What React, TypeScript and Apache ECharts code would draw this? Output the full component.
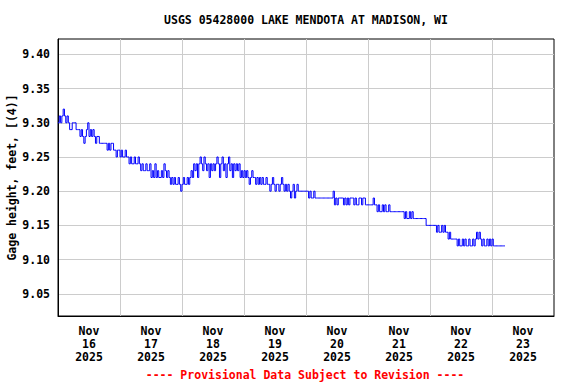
import React, { useEffect, useRef } from "react";
import * as echarts from "echarts";

// Gage height readings (feet), every 30 minutes starting Nov 16 2025 00:00
const nov16 = [
  9.30, 9.31, 9.30, 9.31, 9.32, 9.31, 9.30, 9.31,
  9.30, 9.29, 9.29, 9.30, 9.30, 9.30, 9.29, 9.29,
  9.29, 9.28, 9.29, 9.28, 9.27, 9.28, 9.29, 9.30,
  9.28, 9.29, 9.28, 9.29, 9.28, 9.27, 9.28, 9.28,
  9.27, 9.27, 9.27, 9.27, 9.27, 9.27,
  9.26, 9.27, 9.26, 9.27, 9.27, 9.26,
  9.26, 9.25, 9.26, 9.26,
];
const nov17 = [
  9.25, 9.26, 9.25, 9.25, 9.26, 9.25, 9.25,
  9.24, 9.25, 9.24, 9.24, 9.25, 9.24, 9.24, 9.25, 9.24,
  9.23, 9.24, 9.23, 9.23, 9.24, 9.23, 9.23, 9.24,
  9.22, 9.23, 9.22, 9.24, 9.22, 9.23, 9.22, 9.22, 9.23, 9.22, 9.24, 9.23, 9.22, 9.23, 9.22,
  9.21, 9.22, 9.21, 9.22, 9.21, 9.21, 9.22, 9.21, 9.20,
];
const nov18 = [
  9.21, 9.22, 9.21, 9.21, 9.22, 9.21,
  9.22, 9.23, 9.22, 9.24,
  9.23, 9.24, 9.22, 9.24, 9.25, 9.24, 9.23, 9.25, 9.24, 9.23, 9.24, 9.22,
  9.24, 9.23, 9.24, 9.23, 9.24, 9.25, 9.24, 9.22, 9.24, 9.25, 9.23, 9.24,
  9.22, 9.24, 9.25, 9.23, 9.24, 9.22, 9.24, 9.23, 9.24, 9.23, 9.24,
  9.22, 9.23, 9.22,
];
const nov19 = [
  9.23, 9.22, 9.23, 9.22, 9.21, 9.22, 9.23, 9.22, 9.22,
  9.21, 9.22, 9.21, 9.22, 9.21, 9.22, 9.21, 9.21, 9.22, 9.21,
  9.21, 9.20, 9.21, 9.22, 9.21, 9.20, 9.21, 9.21, 9.20, 9.21, 9.22, 9.21,
  9.20, 9.21, 9.20, 9.21, 9.20, 9.19, 9.20, 9.21, 9.19, 9.20, 9.21, 9.20, 9.20,
  9.20, 9.20, 9.20, 9.20,
];
const nov20 = [
  9.20, 9.20,
  9.19, 9.20, 9.19, 9.19, 9.20,
  9.19, 9.19, 9.19, 9.19, 9.19, 9.19, 9.19, 9.19, 9.19, 9.19, 9.19, 9.19, 9.19, 9.19,
  9.20, 9.18, 9.19, 9.18,
  9.19, 9.19, 9.19, 9.19,
  9.18, 9.19, 9.18, 9.19, 9.18, 9.19, 9.19, 9.19, 9.18, 9.19, 9.18, 9.18, 9.19, 9.19, 9.18, 9.19, 9.19,
  9.18, 9.18,
];
const nov21 = [
  9.18, 9.18, 9.18, 9.18,
  9.19,
  9.18, 9.18,
  9.17, 9.18, 9.17, 9.17, 9.18, 9.17, 9.18, 9.17, 9.17, 9.18, 9.17, 9.17,
  9.17, 9.17, 9.17, 9.17, 9.17, 9.17, 9.17, 9.17, 9.17,
  9.16, 9.17, 9.16, 9.16, 9.17, 9.16, 9.17, 9.16,
  9.16, 9.16, 9.16, 9.16, 9.16, 9.16, 9.16, 9.16, 9.16,
  9.15, 9.15, 9.15,
];
const nov22 = [
  9.15, 9.15, 9.15, 9.15, 9.15,
  9.14, 9.15, 9.14, 9.14, 9.15, 9.14,
  9.15, 9.14, 9.14,
  9.13, 9.14, 9.13,
  9.13, 9.13, 9.13, 9.13,
  9.12, 9.13, 9.12, 9.12, 9.13, 9.12, 9.13, 9.12, 9.12, 9.13, 9.12, 9.12, 9.13, 9.12,
  9.13, 9.14, 9.13, 9.14, 9.13,
  9.12, 9.13, 9.12, 9.12, 9.13, 9.12,
  9.13, 9.12,
];
const nov23 = [
  9.13, 9.12, 9.12,
  9.12, 9.12, 9.12, 9.12, 9.12, 9.12, 9.12, 9.12,
];

const yTickValues = [9.05, 9.10, 9.15, 9.20, 9.25, 9.30, 9.35, 9.40];
const labelDays = [16, 17, 18, 19, 20, 21, 22, 23];
const gridDays = [17, 18, 19, 20, 21, 22, 23];
const MONTH_LABEL = "Nov";
const TITLE = "USGS 05428000 LAKE MENDOTA AT MADISON, WI";
const Y_NAME = "Gage height, feet, [(4)]";
const FOOTER = "---- Provisional Data Subject to Revision ----";

const T0 = Date.UTC(2025, 10, 16);
const STEP = 30 * 60 * 1000;

const FONT = "'DejaVu Sans Mono', 'Liberation Mono', monospace";

export default function App() {
  const ref = useRef<HTMLDivElement>(null);

  useEffect(() => {
    if (!ref.current) return;
    const chart = echarts.init(ref.current, undefined, { renderer: "svg" });
    const values = [...nov16, ...nov17, ...nov18, ...nov19, ...nov20, ...nov21, ...nov22, ...nov23];
    const data = values.map((v, i) => [T0 + i * STEP, v]);
    const labelValues = labelDays.map((d) => Date.UTC(2025, 10, d, 12));
    const gridValues = gridDays.map((d) => Date.UTC(2025, 10, d));

    chart.setOption({
      animation: false,
      backgroundColor: "#ffffff",
      grid: {
        left: 58,
        right: 22,
        top: 39,
        bottom: 68,
        containLabel: false,
        outerBoundsMode: "none",
        show: true,
        borderColor: "#000000",
        borderWidth: 1,
        backgroundColor: "#ffffff",
      },
      graphic: [
        {
          type: "text",
          x: 306,
          y: 20,
          style: {
            text: TITLE,
            fill: "#000000",
            font: `bold 11.5px ${FONT}`,
            textAlign: "center",
            textVerticalAlign: "middle",
          },
        },
        {
          type: "text",
          x: 305,
          y: 375,
          style: {
            text: FOOTER,
            fill: "#ff0000",
            font: `bold 11.5px ${FONT}`,
            textAlign: "center",
            textVerticalAlign: "middle",
          },
        },
      ],
      xAxis: {
        type: "value",
        min: Date.UTC(2025, 10, 16),
        max: Date.UTC(2025, 10, 24),
        axisLine: { show: true, onZero: false, lineStyle: { color: "#000000", width: 1 } },
        axisTick: { show: false, customValues: gridValues },
        splitLine: { show: true, lineStyle: { color: "#cccccc", width: 1 } },
        axisLabel: {
          customValues: labelValues,
          formatter: (v: number) => {
            const d = new Date(v);
            return `${MONTH_LABEL}\n${d.getUTCDate()}\n${d.getUTCFullYear()}`;
          },
          color: "#000000",
          fontFamily: FONT,
          fontWeight: "bold",
          fontSize: 11.5,
          lineHeight: 13,
          margin: 8,
          hideOverlap: false,
          showMinLabel: true,
          showMaxLabel: true,
        },
      },
      yAxis: {
        type: "value",
        min: 9.0175,
        max: 9.4225,
        name: Y_NAME,
        nameLocation: "middle",
        nameGap: 40,
        nameMoveOverlap: false,
        nameTextStyle: {
          color: "#000000",
          fontFamily: FONT,
          fontWeight: "bold",
          fontSize: 11.5,
        },
        axisLine: { show: true, lineStyle: { color: "#000000", width: 1 } },
        axisTick: { show: false, customValues: yTickValues },
        splitLine: { show: true, lineStyle: { color: "#cccccc", width: 1 } },
        axisLabel: {
          customValues: yTickValues,
          formatter: (v: number) => v.toFixed(2),
          color: "#000000",
          fontFamily: FONT,
          fontWeight: "bold",
          fontSize: 11.5,
          margin: 8,
        },
      },
      series: [
        {
          type: "line",
          data,
          step: "end",
          showSymbol: false,
          symbol: "none",
          lineStyle: { color: "#0000ff", width: 1 },
          itemStyle: { color: "#0000ff" },
        },
      ],
    });

    return () => {
      chart.dispose();
    };
  }, []);

  return (
    <div
      ref={ref}
      style={{ position: "fixed", left: 0, top: 0, width: 576, height: 384 }}
    />
  );
}
